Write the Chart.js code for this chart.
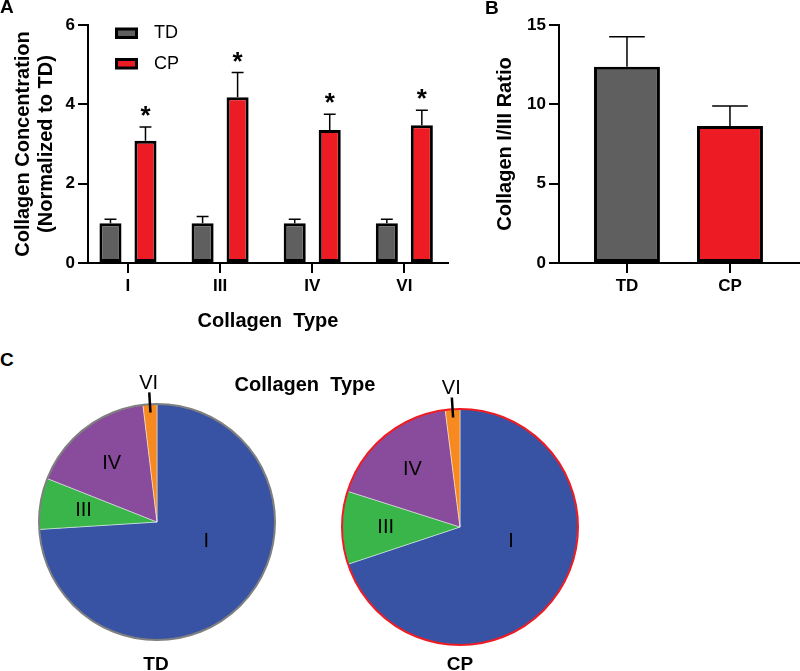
<!DOCTYPE html>
<html>
<head>
<meta charset="utf-8">
<script src="https://cdn.jsdelivr.net/npm/chart.js@4.4.1/dist/chart.umd.min.js"></script>
<style>
  body { margin: 0; background: #fff; }
  #page { position: relative; width: 800px; height: 671px; overflow: hidden; font-family: 'Liberation Sans', Arial, sans-serif; }
  #page canvas { position: absolute; }
  .txt { position: absolute; font-weight: bold; line-height: 1; white-space: pre; color: #000; }
</style>
</head>
<body>
<div id="page">
  <canvas id="concChart" width="470" height="340" style="left:0;top:0"></canvas>
  <canvas id="ratioChart" width="320" height="340" style="left:480px;top:0"></canvas>
  <canvas id="tdPie" width="300" height="300" style="left:7px;top:372px"></canvas>
  <canvas id="cpPie" width="300" height="300" style="left:310px;top:377px"></canvas>

  <div class="txt" style="left:0;top:-3px;font-size:19px">A</div>
  <div class="txt" style="left:485px;top:-2px;font-size:19px">B</div>
  <div class="txt" style="left:0;top:350px;font-size:19px">C</div>
  <div class="txt" style="left:205px;top:374px;width:200px;text-align:center;font-size:20px">Collagen  Type</div>
  <div class="txt" style="left:106px;top:654px;width:100px;text-align:center;font-size:19px">TD</div>
  <div class="txt" style="left:410px;top:654px;width:100px;text-align:center;font-size:19px">CP</div>
</div>

<script>
// panel A - collagen concentration normalised to TD
const collagenTypes = ['I', 'III', 'IV', 'VI'];
const tdConc = [1.0, 1.0, 1.0, 1.0];
const tdConcErr = [0.10, 0.17, 0.10, 0.10];
const cpConc = [3.08, 4.18, 3.35, 3.47];
const cpConcErr = [0.35, 0.62, 0.40, 0.38];
const cpStars = ['*', '*', '*', '*'];

// panel B - collagen I/III ratio
const groups = ['TD', 'CP'];
const ratioVals = [12.37, 8.63];
const ratioErr = [1.89, 1.26];

// panel C - share of each collagen type (%)
const tdShare = [74.0, 7.0, 17.1, 1.9];
const cpShare = [69.9, 10.0, 18.1, 2.0];

const FONT = "'Liberation Sans', Arial, sans-serif";
const GREY = '#5f5f5f';
const RED = '#ed1c24';
const sliceColors = ['#3953a4', '#39b54a', '#894b9b', '#f6891f'];

Chart.defaults.font.family = FONT;
Chart.defaults.color = '#000';

// up-only error bars with caps, plus significance stars
const errorBars = {
  id: 'errorBars',
  afterDatasetsDraw(chart) {
    const ctx = chart.ctx;
    const yScale = chart.scales.y;
    chart.data.datasets.forEach((ds, di) => {
      if (!ds.errors) return;
      chart.getDatasetMeta(di).data.forEach((bar, i) => {
        const top = yScale.getPixelForValue(ds.data[i].y + ds.errors[i]);
        const cap = bar.width * 0.27;
        ctx.save();
        ctx.strokeStyle = '#000';
        ctx.lineWidth = 1.5;
        ctx.beginPath();
        ctx.moveTo(bar.x, bar.y);
        ctx.lineTo(bar.x, top);
        ctx.moveTo(bar.x - cap, top);
        ctx.lineTo(bar.x + cap, top);
        ctx.stroke();
        if (ds.stars && ds.stars[i]) {
          ctx.font = 'bold 26px ' + FONT;
          ctx.textAlign = 'center';
          ctx.textBaseline = 'alphabetic';
          ctx.fillStyle = '#000';
          ctx.fillText(ds.stars[i], bar.x, top - 3);
        }
        ctx.restore();
      });
    });
  }
};

// prism style legend inside the plot
const boxLegend = {
  id: 'boxLegend',
  afterDraw(chart, args, opts) {
    if (!opts.show) return;
    const { ctx, chartArea } = chart;
    chart.data.datasets.forEach((ds, i) => {
      const x = chartArea.left + 28.5;
      const y = chartArea.top + 4 + i * 30.5;
      ctx.save();
      ctx.fillStyle = ds.backgroundColor;
      ctx.strokeStyle = '#000';
      ctx.lineWidth = 3;
      ctx.fillRect(x, y, 20, 8.5);
      ctx.strokeRect(x, y, 20, 8.5);
      ctx.font = '18px ' + FONT;
      ctx.textBaseline = 'middle';
      ctx.fillStyle = '#000';
      ctx.fillText(ds.label, x + 37.5, y + 4.5);
      ctx.restore();
    });
  }
};

function axisX(labels, min, max, titleText) {
  return {
    type: 'linear',
    min: min,
    max: max,
    offset: false,
    afterBuildTicks: s => { s.ticks = labels.map((_, i) => ({ value: i })); },
    afterFit: s => { s.height = 77; },
    ticks: { callback: v => labels[v], font: { size: 17, weight: 'bold' }, padding: 3, maxRotation: 0 },
    grid: { drawOnChartArea: false, offset: false, tickLength: 10, color: '#000', lineWidth: 2 },
    border: { color: '#000', width: 2 },
    title: { display: !!titleText, text: titleText, font: { size: 20, weight: 'bold' }, padding: { top: 0, bottom: 7 } }
  };
}

function axisY(max, step, width, titleText, titlePad, tickPad) {
  return {
    min: 0,
    max: max,
    afterFit: s => { s.width = width; },
    ticks: { stepSize: step, font: { size: 17, weight: 'bold' }, padding: tickPad },
    grid: { drawOnChartArea: false, tickLength: 10, color: '#000', lineWidth: 2 },
    border: { color: '#000', width: 2 },
    title: { display: true, text: titleText, font: { size: 20, weight: 'bold', lineHeight: 1.15 }, padding: { top: titlePad, bottom: 0 } }
  };
}

new Chart(document.getElementById('concChart'), {
  type: 'bar',
  data: {
    datasets: [
      {
        label: 'TD',
        data: tdConc.map((v, i) => ({ x: i, y: v })),
        errors: tdConcErr,
        backgroundColor: GREY
      },
      {
        label: 'CP',
        data: cpConc.map((v, i) => ({ x: i, y: v })),
        errors: cpConcErr,
        stars: cpStars,
        backgroundColor: RED
      }
    ]
  },
  options: {
    responsive: false,
    animation: false,
    layout: { padding: { top: 25, right: 22, left: 0, bottom: 0 } },
    datasets: { bar: { borderColor: '#000', borderWidth: 3, borderSkipped: false, categoryPercentage: 0.76, barPercentage: 0.63 } },
    scales: {
      x: axisX(collagenTypes, -0.434, 3.474, 'Collagen  Type'),
      y: axisY(6, 2, 88, ['Collagen Concentration', '(Normalized to TD)'], 12, 3)
    },
    plugins: { legend: { display: false }, tooltip: { enabled: false }, boxLegend: { show: true } }
  },
  plugins: [errorBars, boxLegend]
});

new Chart(document.getElementById('ratioChart'), {
  type: 'bar',
  data: {
    datasets: [{
      label: 'Collagen I/III Ratio',
      data: ratioVals.map((v, i) => ({ x: i, y: v })),
      errors: ratioErr,
      backgroundColor: [GREY, RED]
    }]
  },
  options: {
    responsive: false,
    animation: false,
    layout: { padding: { top: 25, right: 0, left: 0, bottom: 0 } },
    datasets: { bar: { borderColor: '#000', borderWidth: 3, borderSkipped: false, categoryPercentage: 1, barPercentage: 0.64 } },
    scales: {
      x: axisX(groups, -0.66, 1.68, ''),
      y: axisY(15, 5, 79, 'Collagen I/III Ratio', 13.5, 3)
    },
    plugins: { legend: { display: false }, tooltip: { enabled: false }, boxLegend: { show: false } }
  },
  plugins: [errorBars, boxLegend]
});

// outer ring + slice labels for the pies
const pieDecor = {
  id: 'pieDecor',
  afterDatasetsDraw(chart, args, opts) {
    const ctx = chart.ctx;
    const arcs = chart.getDatasetMeta(0).data;
    const c = arcs[0];
    ctx.save();
    ctx.beginPath();
    ctx.arc(c.x, c.y, c.outerRadius, 0, Math.PI * 2);
    ctx.lineWidth = 2;
    ctx.strokeStyle = opts.ring;
    ctx.stroke();

    ctx.font = '20px ' + FONT;
    ctx.textAlign = 'center';
    ctx.textBaseline = 'middle';
    ctx.fillStyle = '#000';
    arcs.forEach((arc, i) => {
      const span = arc.endAngle - arc.startAngle;
      const frac = span / (Math.PI * 2);
      const R = arc.outerRadius;
      let ang = arc.startAngle + span / 2;
      let r = 0.63;
      if (frac > 0.5) {
        ang = arc.startAngle + span * 0.42;
        r = 0.45;
      } else if (frac < 0.05) {
        r = 1.18;
        ctx.beginPath();
        ctx.moveTo(arc.x + Math.cos(ang) * R * 0.93, arc.y + Math.sin(ang) * R * 0.93);
        ctx.lineTo(arc.x + Math.cos(ang) * R * 1.1, arc.y + Math.sin(ang) * R * 1.1);
        ctx.lineWidth = 2.5;
        ctx.strokeStyle = '#000';
        ctx.stroke();
      }
      ctx.fillText(chart.data.labels[i], arc.x + Math.cos(ang) * R * r, arc.y + Math.sin(ang) * R * r);
    });
    ctx.restore();
  }
};

function pie(id, shares, ring) {
  return new Chart(document.getElementById(id), {
    type: 'pie',
    data: {
      labels: collagenTypes,
      datasets: [{
        data: shares,
        backgroundColor: sliceColors,
        borderColor: 'rgba(255,255,255,0.45)',
        borderWidth: 1
      }]
    },
    options: {
      responsive: false,
      animation: false,
      radius: 118,
      layout: { padding: 0 },
      plugins: { legend: { display: false }, tooltip: { enabled: false }, pieDecor: { ring: ring } }
    },
    plugins: [pieDecor]
  });
}

pie('tdPie', tdShare, '#7f7f7f');
pie('cpPie', cpShare, RED);
</script>
</body>
</html>
